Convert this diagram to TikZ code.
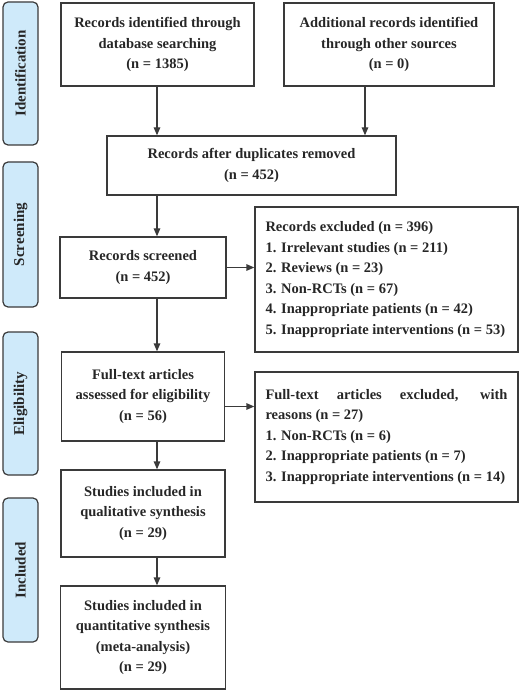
\documentclass[tikz,border=0pt]{standalone}
\usepackage{fontspec}
\setmainfont{Liberation Serif}
\usepackage{tikz}
\usetikzlibrary{arrows.meta}
\definecolor{tabblue}{HTML}{CFEAFA}
\definecolor{linegray}{HTML}{3A3A3A}
\definecolor{textgray}{HTML}{262626}

\begin{document}
\begin{tikzpicture}[x=1pt, y=1pt,
  box/.style={draw=linegray, line width=1.3pt, text=textgray, align=center, inner sep=0pt, font={\bfseries\fontsize{14.5}{20.5}\selectfont}},
  listbox/.style={box, align=justify, text width=242pt, inner xsep=10.5pt, inner ysep=0pt},
  phase/.style={draw=linegray, fill=tabblue, rounded corners=5pt, line width=1.2pt, rotate=90, minimum height=35pt, inner sep=0pt, text=textgray, font={\bfseries\fontsize{15}{18}\selectfont}},
  flow/.style={-{Triangle[length=8pt,width=6.5pt]}, draw=linegray, line width=1.3pt}]
\useasboundingbox (0,0) rectangle (520,-692);
\coordinate (spine) at (157,0);
% phase tabs
\node[phase, minimum width=143pt] (ident) at (20.5,-73.5) {Identification};
\node[phase, minimum width=145pt] (screen) at (20.5,-234.5) {Screening};
\node[phase, minimum width=143pt] (elig) at (20.5,-403.5) {Eligibility};
\node[phase, minimum width=144pt] (incl) at (20.5,-570) {Included};
% identification
\node[box, minimum width=193pt, minimum height=83pt] (dbsearch) at (157.5,-44.5) {Records identified through\\database searching\\(n = 1385)};
\node[box, minimum width=210pt, minimum height=83pt] (other) at (389,-44.5) {Additional records identified\\through other sources\\(n = 0)};
\coordinate (otherfoot) at ([xshift=-24pt]other.south);
\node[box, minimum width=289pt, minimum height=59pt] (dup) at (251.5,-165.5) {Records after duplicates removed\\(n = 452)};
\draw[flow] (dbsearch.south -| spine) -- (dup.north -| spine);
\draw[flow] (otherfoot) -- (otherfoot |- dup.north);
% screening
\node[box, minimum width=166pt, minimum height=61pt] (screened) at (143,-267.5) {Records screened\\(n = 452)};
\node[listbox, minimum height=145pt] (excluded) at (386.5,-279.5) {Records excluded (n = 396)\\1. Irrelevant studies (n = 211)\\2. Reviews (n = 23)\\3. Non-RCTs (n = 67)\\4. Inappropriate patients (n = 42)\\5. Inappropriate interventions (n = 53)};
\draw[flow] (dup.south -| spine) -- (screened.north -| spine);
\draw[flow] (screened.east) -- (screened.east -| excluded.west);
% eligibility
\node[box, minimum width=163pt, minimum height=89pt, below of=screened, node distance=129pt] (fulltext) {Full-text articles\\assessed for eligibility\\(n = 56)};
\node[listbox, minimum height=130pt] (ftexcluded) at (386.5,-437) {\makebox[\linewidth][s]{Full-text articles excluded, with}\\reasons (n = 27)\\1. Non-RCTs (n = 6)\\2. Inappropriate patients (n = 7)\\3. Inappropriate interventions (n = 14)};
\coordinate (ftside) at ([yshift=-10pt]fulltext.east);
\draw[flow] (screened.south -| spine) -- (fulltext.north -| spine);
\draw[flow] (ftside) -- (ftside -| ftexcluded.west);
% included
\node[box, minimum width=164pt, minimum height=87pt, below of=fulltext, node distance=117pt] (qual) {Studies included in\\qualitative synthesis\\(n = 29)};
\node[box, minimum width=165pt, minimum height=103pt, below of=qual, node distance=124pt] (quant) {Studies included in\\quantitative synthesis\\(meta-analysis)\\(n = 29)};
\draw[flow] (fulltext.south -| spine) -- (qual.north -| spine);
\draw[flow] (qual.south -| spine) -- (quant.north -| spine);
\end{tikzpicture}
\end{document}
